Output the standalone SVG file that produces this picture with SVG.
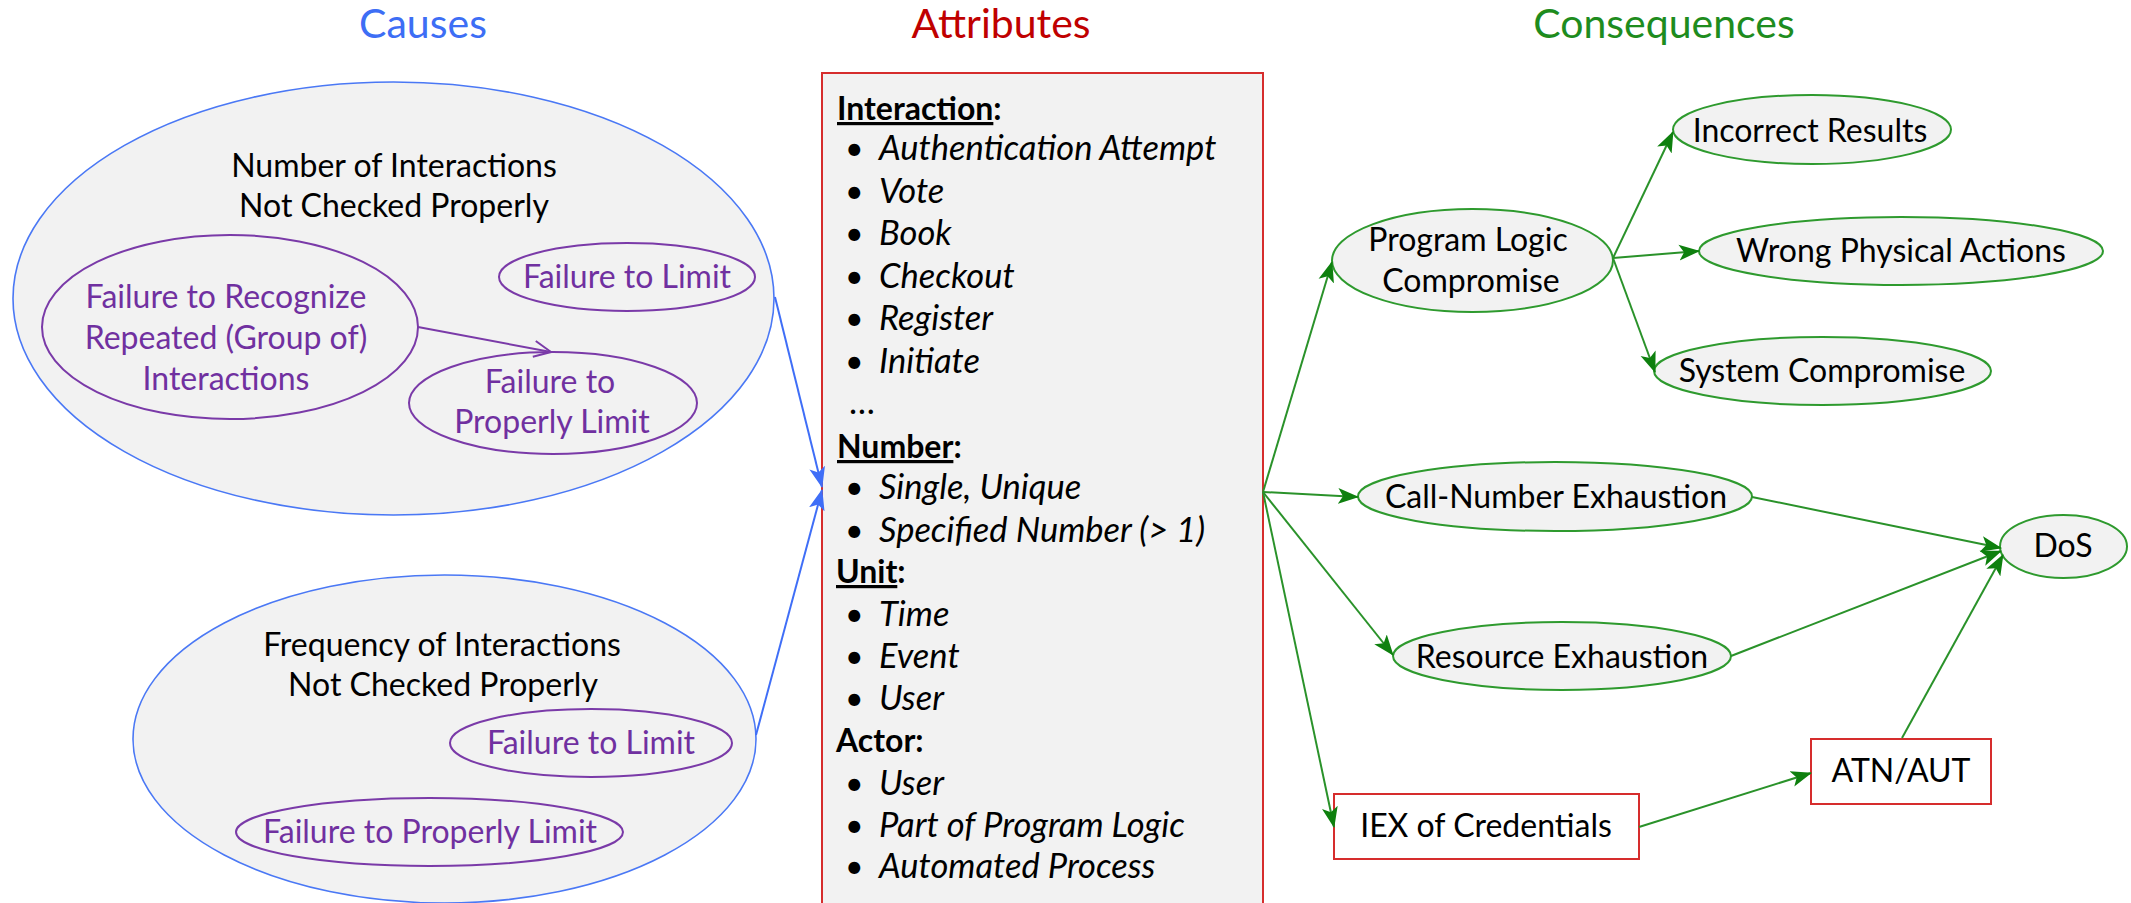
<svg xmlns="http://www.w3.org/2000/svg" width="2131" height="903" viewBox="0 0 2131 903">
<style>
text { font-family: Lato, "Liberation Sans", Arial, sans-serif; }
.title { font-size: 41px; text-anchor: middle; }
.lbl { font-size: 32px; fill: #000; text-anchor: middle; }
.pur { font-size: 32px; fill: #7030A0; text-anchor: middle; }
.hd { font-size: 32px; font-weight: bold; fill: #000; }
.it { font-size: 34.5px; font-style: italic; fill: #000; }
.bul { font-size: 32px; fill: #000; }
.u { text-decoration: underline; }
.cause { fill: #F2F2F2; stroke: #4A78F5; stroke-width: 1.6; }
.sub { fill: none; stroke: #7A3AA8; stroke-width: 2; }
.cons { fill: #F2F2F2; stroke: #2E9A2E; stroke-width: 2; }
.rbox { fill: #FFFFFF; stroke: #D62D2D; stroke-width: 2; }
.gline { stroke: #2A922A; stroke-width: 2; fill: none; marker-end: url(#ga); }
.bline { stroke: #3F6EF7; stroke-width: 2; fill: none; marker-end: url(#ba); }
.pline { stroke: #7A3AA8; stroke-width: 2; fill: none; marker-end: url(#pa); }
</style>
<defs>
<marker id="ga" markerUnits="userSpaceOnUse" markerWidth="22" markerHeight="18" refX="20" refY="8" orient="auto" viewBox="0 0 22 16">
<path d="M0,0 L21,8 L0,16 L5,8 z" fill="#0E800E"/>
</marker>
<marker id="ba" markerUnits="userSpaceOnUse" markerWidth="22" markerHeight="18" refX="20" refY="8" orient="auto" viewBox="0 0 22 16">
<path d="M0,0 L21,8 L0,16 L5,8 z" fill="#3F6EF7"/>
</marker>
<marker id="pa" markerUnits="userSpaceOnUse" markerWidth="22" markerHeight="22" refX="18" refY="9" orient="auto" viewBox="0 0 22 18">
<path d="M1,1 L18,9 L1,17" fill="none" stroke="#7A3AA8" stroke-width="2"/>
</marker>
</defs>

<g id="titles">
<text class="title" x="423" y="38" fill="#3D6EF5">Causes</text>
<text class="title" x="1001" y="38" fill="#C00000">Attributes</text>
<text class="title" x="1664" y="38" fill="#1E8C1E">Consequences</text>
</g>

<g id="cause-number">
<ellipse class="cause" cx="393.5" cy="298.5" rx="380.5" ry="216.5"/>
<text class="lbl" x="394" y="177">Number of Interactions</text>
<text class="lbl" x="394" y="217">Not Checked Properly</text>
</g>
<g id="n-recognize">
<ellipse class="sub" cx="230" cy="327" rx="188" ry="92"/>
<text class="pur" x="226" y="308">Failure to Recognize</text>
<text class="pur" x="226" y="349">Repeated (Group of)</text>
<text class="pur" x="226" y="390">Interactions</text>
</g>
<g id="n-limit1">
<ellipse class="sub" cx="627" cy="277" rx="128" ry="34"/>
<text class="pur" x="627" y="288">Failure to Limit</text>
</g>
<g id="n-proplimit1">
<ellipse class="sub" cx="553" cy="403" rx="144" ry="51"/>
<text class="pur" x="550" y="393">Failure to</text>
<text class="pur" x="552" y="433">Properly Limit</text>
</g>

<g id="cause-frequency">
<ellipse class="cause" cx="444.5" cy="739" rx="311.5" ry="164"/>
<text class="lbl" x="442" y="656">Frequency of Interactions</text>
<text class="lbl" x="443" y="696">Not Checked Properly</text>
</g>
<g id="f-limit">
<ellipse class="sub" cx="591" cy="743" rx="141" ry="34"/>
<text class="pur" x="591" y="754">Failure to Limit</text>
</g>
<g id="f-proplimit">
<ellipse class="sub" cx="429.5" cy="832" rx="193.5" ry="34"/>
<text class="pur" x="430" y="843">Failure to Properly Limit</text>
</g>

<g id="attributes">
<rect x="822" y="73" width="441" height="840" fill="#F2F2F2" stroke="#D62D2D" stroke-width="2"/>
<text class="hd" x="837" y="120"><tspan class="u">Interaction</tspan>:</text>
<text class="bul" x="845" y="160">•</text><text class="it" x="879" y="160">Authentication Attempt</text>
<text class="bul" x="845" y="203">•</text><text class="it" x="879" y="203">Vote</text>
<text class="bul" x="845" y="245">•</text><text class="it" x="879" y="245">Book</text>
<text class="bul" x="845" y="288">•</text><text class="it" x="879" y="288">Checkout</text>
<text class="bul" x="845" y="330">•</text><text class="it" x="879" y="330">Register</text>
<text class="bul" x="845" y="373">•</text><text class="it" x="879" y="373">Initiate</text>
<text class="it" x="850" y="414">…</text>
<text class="hd" x="837" y="458"><tspan class="u">Number</tspan>:</text>
<text class="bul" x="845" y="499">•</text><text class="it" x="879" y="499">Single, Unique</text>
<text class="bul" x="845" y="542">•</text><text class="it" x="879" y="542">Specified Number (&gt; 1)</text>
<text class="hd" x="836" y="583"><tspan class="u">Unit</tspan>:</text>
<text class="bul" x="845" y="626">•</text><text class="it" x="879" y="626">Time</text>
<text class="bul" x="845" y="668">•</text><text class="it" x="879" y="668">Event</text>
<text class="bul" x="845" y="710">•</text><text class="it" x="879" y="710">User</text>
<text class="hd" x="836" y="752">Actor:</text>
<text class="bul" x="845" y="795">•</text><text class="it" x="879" y="795">User</text>
<text class="bul" x="845" y="837">•</text><text class="it" x="879" y="837">Part of Program Logic</text>
<text class="bul" x="845" y="878">•</text><text class="it" x="879" y="878">Automated Process</text>
</g>

<g id="c-program-logic">
<ellipse class="cons" cx="1472.5" cy="260.5" rx="140.5" ry="51.5"/>
<text class="lbl" x="1468" y="251">Program Logic</text>
<text class="lbl" x="1471" y="292">Compromise</text>
</g>
<g id="c-incorrect">
<ellipse class="cons" cx="1812" cy="129.5" rx="139" ry="34.5"/>
<text class="lbl" x="1810" y="142">Incorrect Results</text>
</g>
<g id="c-wrong-physical">
<ellipse class="cons" cx="1901" cy="251" rx="202" ry="34"/>
<text class="lbl" x="1901" y="262">Wrong Physical Actions</text>
</g>
<g id="c-system">
<ellipse class="cons" cx="1822.5" cy="371" rx="168.5" ry="34"/>
<text class="lbl" x="1822" y="382">System Compromise</text>
</g>
<g id="c-call-number">
<ellipse class="cons" cx="1555" cy="496.5" rx="197" ry="34.5"/>
<text class="lbl" x="1556" y="508">Call-Number Exhaustion</text>
</g>
<g id="c-resource">
<ellipse class="cons" cx="1562" cy="656" rx="169" ry="34"/>
<text class="lbl" x="1562" y="668">Resource Exhaustion</text>
</g>
<g id="c-dos">
<ellipse class="cons" cx="2063.5" cy="546.5" rx="63.5" ry="31.5"/>
<text class="lbl" x="2063" y="557">DoS</text>
</g>
<g id="c-iex">
<rect class="rbox" x="1334" y="794" width="305" height="65"/>
<text class="lbl" x="1486" y="837">IEX of Credentials</text>
</g>
<g id="c-atn">
<rect class="rbox" x="1811" y="739" width="180" height="65"/>
<text class="lbl" x="1901" y="782">ATN/AUT</text>
</g>

<g id="connectors">
<line class="pline" x1="418" y1="327" x2="551" y2="352"/>
<line class="bline" x1="775" y1="297" x2="822" y2="487"/>
<line class="bline" x1="756" y1="735" x2="822" y2="490"/>
<line class="gline" x1="1263" y1="492" x2="1332" y2="262"/>
<line class="gline" x1="1263" y1="492" x2="1358" y2="497"/>
<line class="gline" x1="1263" y1="492" x2="1393" y2="655"/>
<line class="gline" x1="1263" y1="492" x2="1334" y2="827"/>
<line class="gline" x1="1613" y1="258" x2="1673" y2="132"/>
<line class="gline" x1="1613" y1="258" x2="1699" y2="251"/>
<line class="gline" x1="1613" y1="258" x2="1655" y2="372"/>
<line class="gline" x1="1752" y1="497" x2="2001" y2="548"/>
<line class="gline" x1="1731" y1="656" x2="2001" y2="551"/>
<line class="gline" x1="1902" y1="738" x2="2003" y2="555"/>
<line class="gline" x1="1639" y1="827" x2="1811" y2="773"/>
</g>
</svg>
